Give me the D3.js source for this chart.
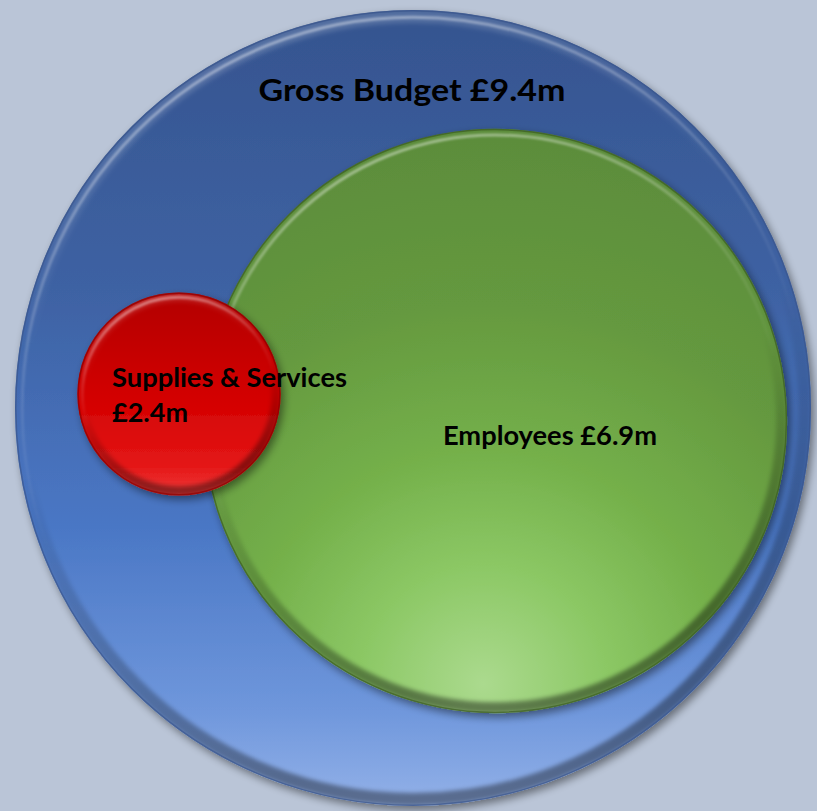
<!DOCTYPE html>
<html>
<head>
<meta charset="utf-8">
<script src="https://cdn.jsdelivr.net/npm/d3@7/dist/d3.min.js"></script>
<style>
  html, body { margin: 0; padding: 0; background: #bac5d7; }
  svg { display: block; }
  text { font-family: Lato, "Open Sans", "Noto Sans", sans-serif; font-weight: 700; fill: #000; }
</style>
</head>
<body>
<svg id="chart" width="817" height="811"></svg>
<script>
// Budget breakdown (£m)
const categories = ["Gross Budget", "Employees", "Supplies & Services"];
const values = [9.4, 6.9, 2.4];
const labelLines = [["Gross Budget £9.4m"], ["Employees £6.9m"], ["Supplies & Services", "£2.4m"]];

const svg = d3.select("#chart");

// radius is proportional to the amount
const rScale = d3.scaleLinear().domain([0, d3.max(values)]).range([0, 398]);

// bubble placement and look
const layout = [
  { cx: 413, cy: 408, key: "blue", grad: "linear",
    fill: [[0, "#35548f"], [0.35, "#3e62a3"], [0.65, "#4a77c5"], [0.88, "#6f97dc"], [1, "#93b1e8"]],
    ring: 13, dark: 0.38, light: 0.22, outline: "#3a568c",
    label: { x: 412, y: 101, size: 30, widths: [307], anchor: "middle" } },
  { cx: 495, cy: 421, key: "green", grad: "radial",
    fill: [[0, "#5a8a3a"], [0.35, "#65993f"], [0.6, "#74b04a"], [0.8, "#8cc865"], [1, "#abda8e"]],
    ring: 11, dark: 0.42, light: 0.0, outline: "#3b5a22",
    label: { x: 550, y: 444.5, size: 26, widths: [214], anchor: "middle" } },
  { cx: 179, cy: 394, key: "red", grad: "linear",
    fill: [[0, "#b20000"], [0.5, "#d20000"], [0.85, "#e41616"], [1, "#f03a3a"]],
    ring: 9, dark: 0.4, light: 0.18, outline: "#8a0000",
    label: { x: 112, y: 387.3, size: 26, widths: [235, 76], anchor: "start", lineGap: 34.5 } }
];

const defs = svg.append("defs");

// soft drop shadow
const shadow = defs.append("filter").attr("id", "shadow")
  .attr("x", "-10%").attr("y", "-10%").attr("width", "125%").attr("height", "125%");
shadow.append("feGaussianBlur").attr("in", "SourceAlpha").attr("stdDeviation", 4).attr("result", "b");
shadow.append("feOffset").attr("in", "b").attr("dx", 3).attr("dy", 4).attr("result", "o");
shadow.append("feComponentTransfer").attr("in", "o").attr("result", "s")
  .append("feFuncA").attr("type", "linear").attr("slope", 0.45);
const merge = shadow.append("feMerge");
merge.append("feMergeNode").attr("in", "s");
merge.append("feMergeNode").attr("in", "SourceGraphic");

const soft = defs.append("filter").attr("id", "soft")
  .attr("x", "-5%").attr("y", "-5%").attr("width", "110%").attr("height", "110%");
soft.append("feGaussianBlur").attr("stdDeviation", 2);

const soft1 = defs.append("filter").attr("id", "soft1")
  .attr("x", "-5%").attr("y", "-5%").attr("width", "110%").attr("height", "110%");
soft1.append("feGaussianBlur").attr("stdDeviation", 0.8);

const bubbles = layout.map((l, i) => Object.assign({}, l, {
  value: values[i], name: categories[i], lines: labelLines[i], r: rScale(values[i])
}));

bubbles.forEach(b => {
  // body gradient, lighter towards the bottom
  let g;
  if (b.grad === "linear") {
    g = defs.append("linearGradient").attr("id", "fill-" + b.key)
      .attr("x1", 0).attr("y1", 0).attr("x2", 0).attr("y2", 1);
    b.fill.forEach(([o, c]) => g.append("stop").attr("offset", o * 100 + "%").attr("stop-color", c));
  } else {
    g = defs.append("radialGradient").attr("id", "fill-" + b.key)
      .attr("cx", "48%").attr("cy", "100%").attr("r", "105%")
      .attr("fx", "48%").attr("fy", "95%");
    b.fill.slice().reverse().forEach(([o, c]) =>
      g.append("stop").attr("offset", (1 - o) * 100 + "%").attr("stop-color", c));
  }

  // bevel: light top rim, dark bottom rim
  const bv = defs.append("linearGradient").attr("id", "bevel-" + b.key)
    .attr("x1", 0).attr("y1", 0).attr("x2", 0.25).attr("y2", 1);
  bv.append("stop").attr("offset", "0%").attr("stop-color", "#fff").attr("stop-opacity", b.light);
  bv.append("stop").attr("offset", "40%").attr("stop-color", "#fff").attr("stop-opacity", 0);
  bv.append("stop").attr("offset", "55%").attr("stop-color", "#000").attr("stop-opacity", 0);
  bv.append("stop").attr("offset", "100%").attr("stop-color", "#000").attr("stop-opacity", b.dark);

  // thin highlight line just inside the top edge
  const hl = defs.append("linearGradient").attr("id", "hl-" + b.key)
    .attr("x1", 0.3).attr("y1", 0).attr("x2", 0.6).attr("y2", 1);
  hl.append("stop").attr("offset", "0%").attr("stop-color", "#fff").attr("stop-opacity", 0.45);
  hl.append("stop").attr("offset", "35%").attr("stop-color", "#fff").attr("stop-opacity", 0.12);
  hl.append("stop").attr("offset", "55%").attr("stop-color", "#fff").attr("stop-opacity", 0);

  defs.append("clipPath").attr("id", "clip-" + b.key)
    .append("circle").attr("cx", b.cx).attr("cy", b.cy).attr("r", b.r);
});

const gBubbles = svg.selectAll("g.bubble").data(bubbles).join("g")
  .attr("class", "bubble");

gBubbles.each(function (b) {
  const g = d3.select(this);
  g.append("circle")
    .attr("cx", b.cx).attr("cy", b.cy).attr("r", b.r)
    .attr("fill", `url(#fill-${b.key})`)
    .attr("filter", "url(#shadow)");
  const inner = g.append("g").attr("clip-path", `url(#clip-${b.key})`);
  inner.append("circle")
    .attr("cx", b.cx).attr("cy", b.cy).attr("r", b.r - b.ring / 2)
    .attr("fill", "none")
    .attr("stroke", `url(#bevel-${b.key})`)
    .attr("stroke-width", b.ring)
    .attr("filter", "url(#soft)");
  inner.append("circle")
    .attr("cx", b.cx).attr("cy", b.cy).attr("r", b.r - b.ring * 0.55)
    .attr("fill", "none")
    .attr("stroke", `url(#hl-${b.key})`)
    .attr("stroke-width", 3)
    .attr("filter", "url(#soft1)");
  g.append("circle")
    .attr("cx", b.cx).attr("cy", b.cy).attr("r", b.r - 0.75)
    .attr("fill", "none")
    .attr("stroke", b.outline)
    .attr("stroke-opacity", 0.7)
    .attr("stroke-width", 1.5);
});

// labels drawn on top of every bubble
svg.selectAll("text.label").data(bubbles).join("text")
  .attr("class", "label")
  .attr("text-anchor", d => d.label.anchor)
  .attr("font-size", d => d.label.size)
  .each(function (d) {
    const t = d3.select(this);
    d.lines.forEach((line, k) => {
      t.append("tspan")
        .attr("x", d.label.x)
        .attr("y", d.label.y + k * (d.label.lineGap || 0))
        .attr("textLength", d.label.widths[k])
        .attr("lengthAdjust", "spacingAndGlyphs")
        .text(line);
    });
  });
</script>
</body>
</html>
